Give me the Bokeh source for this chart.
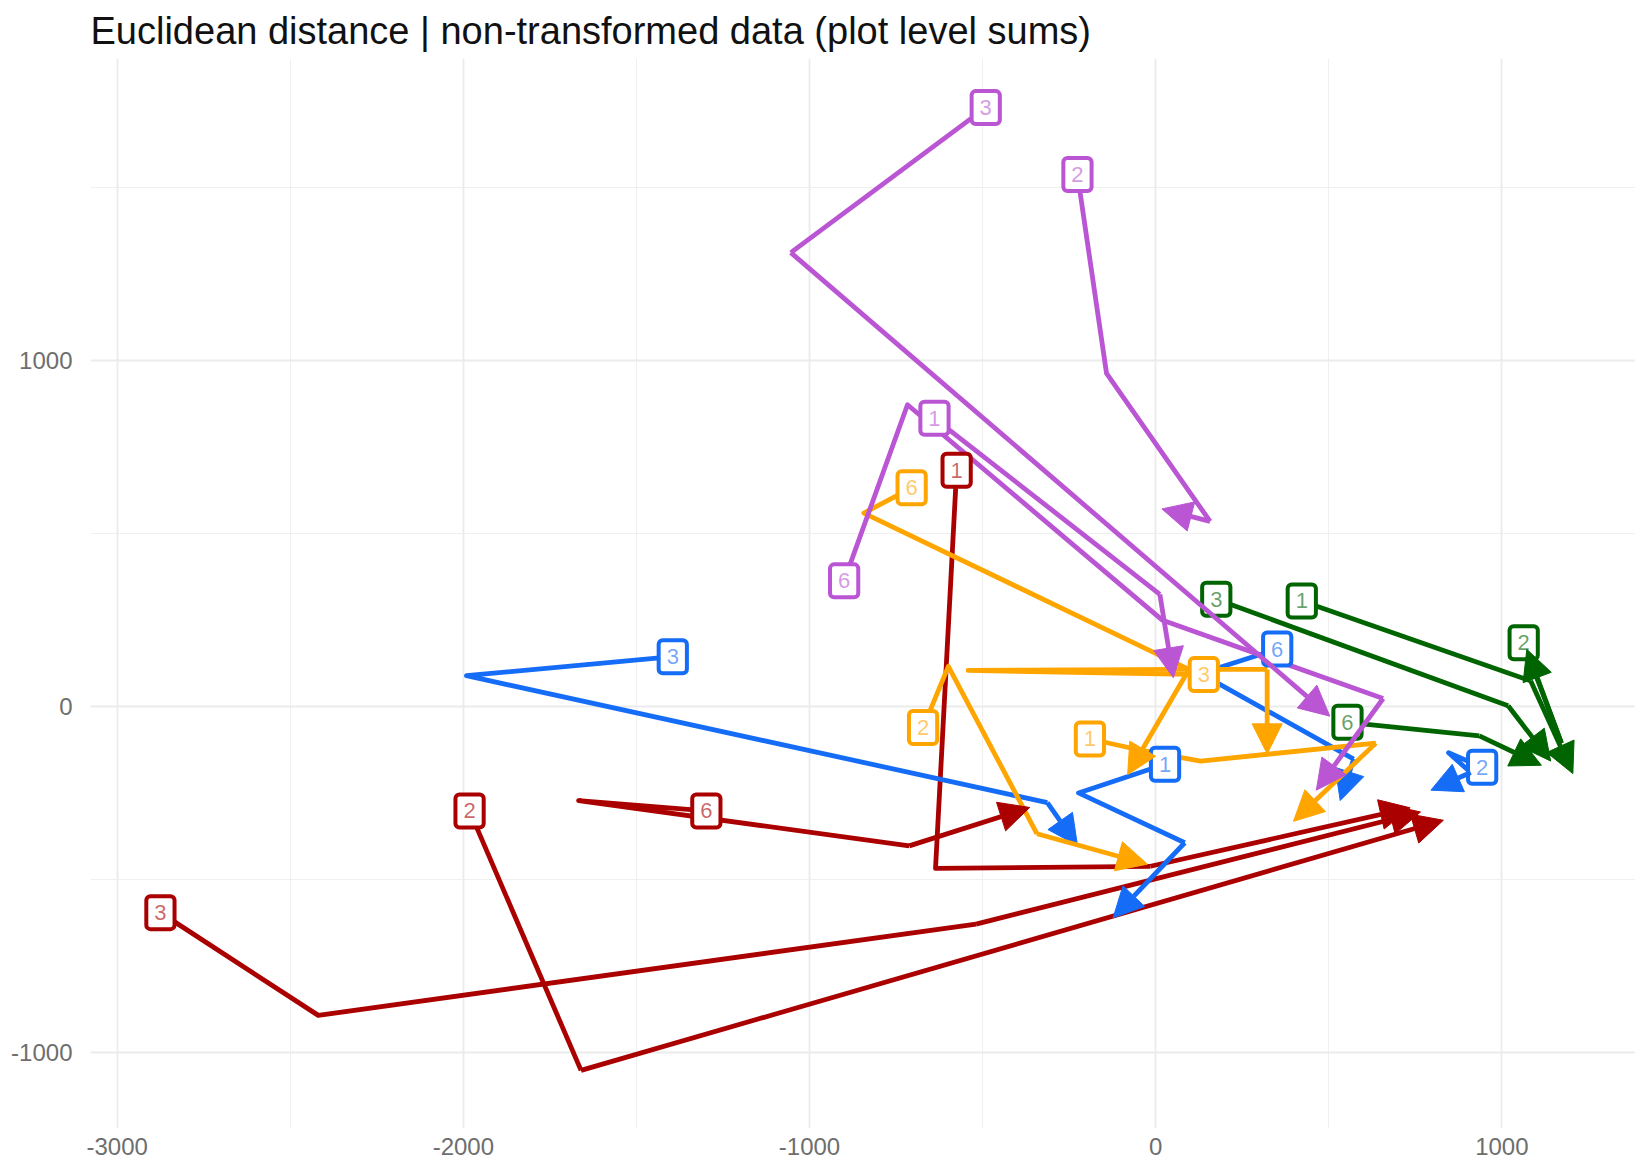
from bokeh.plotting import figure
from bokeh.models import ColumnDataSource, Arrow, NormalHead, FixedTicker, Range1d, PrintfTickFormatter
from bokeh.embed import file_html
from bokeh.resources import INLINE
from bokeh.core.properties import value

TITLE = "Euclidean distance | non-transformed data (plot level sums)"

x_major = [-3000, -2000, -1000, 0, 1000]
x_minor = [-2500, -1500, -500, 500]
y_major = [-1000, 0, 1000]
y_minor = [-500, 500, 1500]

plot_ids = ["1", "2", "3", "6"]

red_x = [[-575, -636, -15, 735], [-1982, -1660, 831], [-2875, -2419, -519, 765], [-1298, -1667, -712, -364]]
red_y = [[684, -467, -461, -292], [-301, -1051, -328], [-595, -892, -628, -304], [-301, -271, -402, -291]]

blue_x = [[27, -223, 84, -123], [943, 846, 910, 795], [-1395, -1991, -313, -226], [351, 130, 572, 533]]
blue_y = [[-166, -249, -393, -610], [-175, -133, -190, -241], [145, 90, -277, -401], [167, 96, -151, -271]]

orange_x = [[-190, -36, 130, 636, 398], [-672, -599, -343, -24], [139, -542, 96, -81], [-705, -843, 96, 322, 322]]
orange_y = [[-93, -127, -157, -105, -331], [-60, 117, -367, -455], [93, 105, 108, -196], [633, 560, 108, 108, -136]]

purple_x = [[-639, 12, 51], [-226, -142, 157, 18], [-491, -1054, 503], [-900, -717, 20, 657, 464]]
purple_y = [[834, 325, 84], [1539, 964, 536, 572], [1732, 1313, -27], [364, 873, 250, 24, -241]]

green_x = [[422, 1083, 1205], [1063, 1172, 1072], [175, 1018, 1141], [554, 935, 1114]]
green_y = [[306, 75, -193], [185, -105, 166], [311, 3, -157], [-45, -84, -169]]

groups = [
    ("#AA0000", red_x, red_y),
    ("#156CF7", blue_x, blue_y),
    ("#FFA500", orange_x, orange_y),
    ("#BA55D3", purple_x, purple_y),
    ("#006400", green_x, green_y),
]

FONT = "Liberation Sans"

p = figure(width=1635, height=1162, output_backend="svg", toolbar_location=None,
           x_range=Range1d(-3077, 1386), y_range=Range1d(-1219, 1874),
           min_border_left=90, min_border_right=0, min_border_top=57, min_border_bottom=34,
           title=TITLE)
p.outline_line_color = None
p.background_fill_color = "white"
p.border_fill_color = "white"

p.title.text_font = FONT
p.title.text_font_size = "38px"
p.title.text_font_style = "normal"
p.title.text_color = "#111111"
p.title.align = "left"
p.title.offset = 0
p.title.standoff = 14

p.xaxis.ticker = FixedTicker(ticks=x_major, minor_ticks=x_minor)
p.yaxis.ticker = FixedTicker(ticks=y_major, minor_ticks=y_minor)
for ax in (p.xaxis, p.yaxis):
    ax.formatter = PrintfTickFormatter(format="%d")
    ax.axis_line_color = None
    ax.major_tick_line_color = None
    ax.minor_tick_line_color = None
    ax.major_tick_out = 0
    ax.major_tick_in = 0
    ax.major_label_text_font = FONT
    ax.major_label_text_font_size = "24px"
    ax.major_label_text_color = "#6e6e6e"
p.xaxis.major_label_standoff = 5
p.yaxis.major_label_standoff = 14

for g in (p.xgrid, p.ygrid):
    g.grid_line_color = "#EBEBEB"
    g.grid_line_width = 1.8
    g.minor_grid_line_color = "#EFEFEF"
    g.minor_grid_line_width = 1.1

LW = 4.8
# paths (all segments except last), last segment as arrow
for color, xs, ys in groups:
    body_x = [x[:-1] for x in xs]
    body_y = [y[:-1] for y in ys]
    p.multi_line(xs=body_x, ys=body_y, line_color=color, line_width=LW,
                 line_join="round", line_cap="butt")
    src = ColumnDataSource(dict(
        x0=[x[-2] for x in xs], y0=[y[-2] for y in ys],
        x1=[x[-1] for x in xs], y1=[y[-1] for y in ys]))
    p.add_layout(Arrow(end=NormalHead(size=30, fill_color=color, line_color=color, line_width=1),
                       x_start="x0", y_start="y0", x_end="x1", y_end="y1",
                       line_color=color, line_width=LW, source=src))

# start labels
for color, xs, ys in groups:
    p.text(x=[x[0] for x in xs], y=[y[0] for y in ys], text=plot_ids,
           text_font=value(FONT), text_font_size="22px", text_color=color, text_alpha=0.6,
           text_align="center", text_baseline="middle",
           background_fill_color="white", border_line_color=color, border_line_width=4,
           border_radius=4, padding=(8, 9))

open("out.html", "w").write(file_html(p, INLINE))
